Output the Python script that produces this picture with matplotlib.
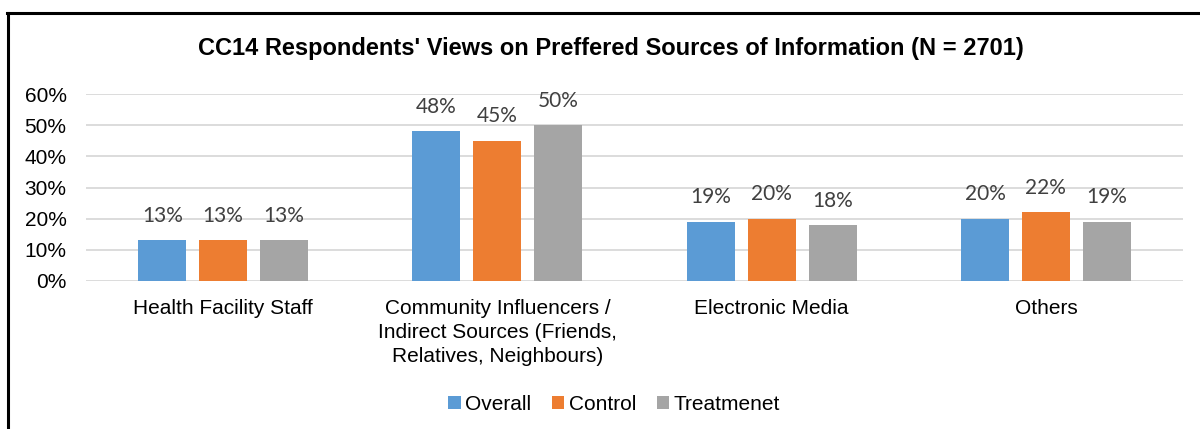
import matplotlib
matplotlib.use("Agg")
import matplotlib.pyplot as plt
import numpy as np
from matplotlib.lines import Line2D
from matplotlib.patches import Patch

categories = ["Health Facility Staff",
              "Community Influencers /\nIndirect Sources (Friends,\nRelatives, Neighbours)",
              "Electronic Media",
              "Others"]
series_names = ["Overall", "Control", "Treatmenet"]
overall = [13, 48, 19, 20]
control = [13, 45, 20, 22]
treatment = [13, 50, 18, 19]
yticks = [0, 10, 20, 30, 40, 50, 60]
title = "CC14 Respondents' Views on Preffered Sources of Information (N = 2701)"

colors = ["#5B9BD5", "#ED7D31", "#A5A5A5"]
plt.rcParams['font.family'] = ['Liberation Sans', 'DejaVu Sans']

fig = plt.figure(figsize=(12, 4.29), dpi=100)
ax = fig.add_axes([86/1200, 1 - 281/429, (1183-86)/1200, (281-94)/429])

x = np.arange(len(categories))
width = 0.175
offsets = [-0.222, 0.0, 0.222]
for vals, off, col, name in zip([overall, control, treatment], offsets, colors, series_names):
    bars = ax.bar(x + off, vals, width, color=col, label=name, zorder=3)
    for b, v in zip(bars, vals):
        ax.text(b.get_x() + b.get_width()/2, v + 4.6, f"{v}%", ha="center", va="bottom",
                fontsize=15, color="#404040", family=["Lato", "DejaVu Sans"])

ax.set_xlim(-0.5, len(categories) - 0.5)
ax.set_ylim(0, 60)
ax.set_yticks(yticks)
ax.set_yticklabels([f"{t}%" for t in yticks], fontsize=15, color="#000000")
ax.yaxis.grid(True, color="#D9D9D9", linewidth=1.3, zorder=0)
ax.set_axisbelow(True)
ax.tick_params(axis="y", length=0, pad=14)
ax.tick_params(axis="x", length=0, pad=13)
ax.set_xticks(x)
ax.set_xticklabels(categories, fontsize=15, color="#000000", linespacing=1.32, va="top")
for s in ax.spines.values():
    s.set_visible(False)

fig.text(611/1200, 1 - 48/429, title, ha="center", va="center", fontsize=17, fontweight="bold")

handles = [Patch(facecolor=c, edgecolor="none") for c in colors]
fig.legend(handles, series_names, loc="center", bbox_to_anchor=(614/1200, 1 - 404/429),
           ncol=3, frameon=False, fontsize=15, handlelength=0.6, handleheight=0.6,
           handletextpad=0.2, columnspacing=1.0)

# outer frame (top and left edges)
fig.add_artist(Line2D([7/1200, 1], [1 - 13/429, 1 - 13/429], color="black", linewidth=2.2,
                      transform=fig.transFigure))
fig.add_artist(Line2D([8/1200, 8/1200], [0, 1 - 13/429], color="black", linewidth=2.2,
                      transform=fig.transFigure))

fig.savefig("out.png", dpi=100, facecolor="white")
